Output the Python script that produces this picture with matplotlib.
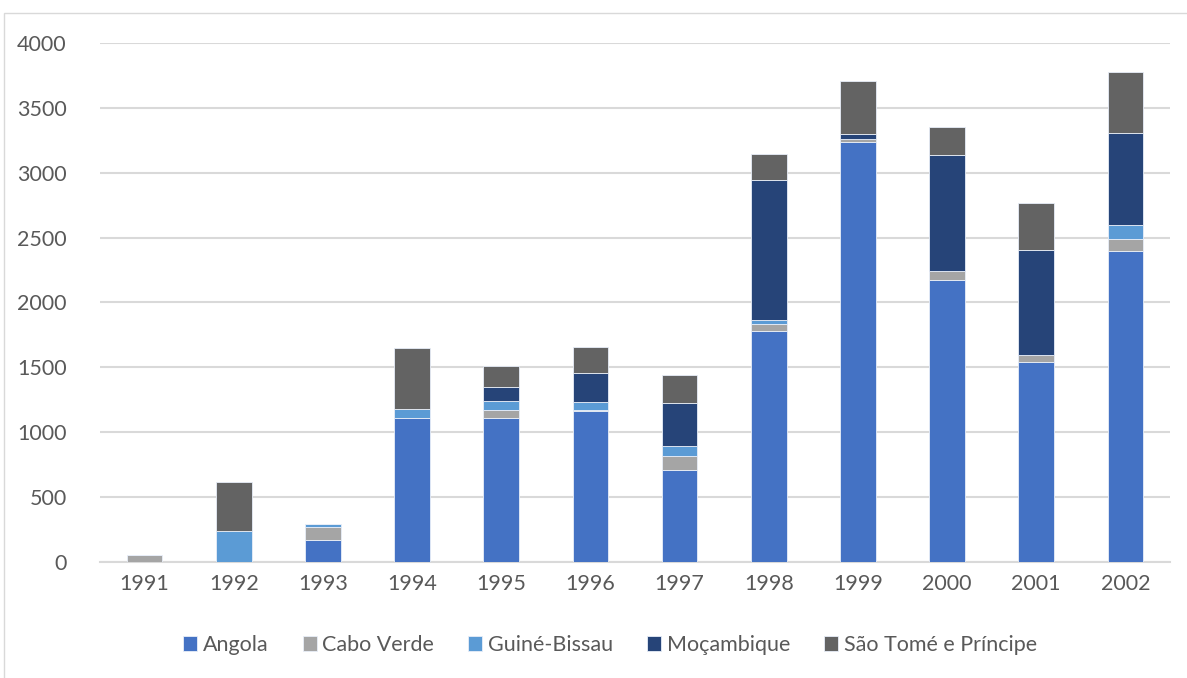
import numpy as np
import matplotlib
matplotlib.use("Agg")
import matplotlib.pyplot as plt
from matplotlib.patches import Rectangle

plt.rcParams['font.family'] = ['Lato', 'DejaVu Sans']

# dados
anos = ['1991', '1992', '1993', '1994', '1995', '1996', '1997', '1998', '1999', '2000', '2001', '2002']
angola = [0, 0, 166, 1105, 1105, 1160, 706, 1778, 3238, 2171, 1540, 2394]
cabo_verde = [55, 0, 102, 0, 65, 8, 109, 57, 21, 72, 56, 95]
guine_bissau = [0, 235, 21, 75, 72, 66, 77, 31, 0, 0, 0, 108]
mocambique = [0, 0, 0, 0, 108, 219, 329, 1077, 38, 890, 806, 706]
sao_tome = [0, 381, 0, 469, 160, 206, 219, 200, 408, 223, 367, 472]

series = [
    ('Angola', angola, '#4472C4'),
    ('Cabo Verde', cabo_verde, '#A5A5A5'),
    ('Guiné-Bissau', guine_bissau, '#5B9BD5'),
    ('Moçambique', mocambique, '#264478'),
    ('São Tomé e Príncipe', sao_tome, '#636363'),
]

fig = plt.figure(figsize=(11.87, 6.78), dpi=100)
ax = fig.add_axes([100 / 1187, 1 - 561.7 / 678, 1070 / 1187, (561.7 - 43) / 678])

x = np.arange(len(anos))
base = np.zeros(len(anos))
for nome, vals, cor in series:
    vals = np.array(vals, dtype=float)
    ax.bar(x, vals, width=0.4, bottom=base, color=cor, label=nome,
           edgecolor='#e8eef8', linewidth=0.6, zorder=3)
    base += vals

ax.set_xlim(-0.5, len(anos) - 0.5)
ax.set_ylim(0, 4000)
ax.set_yticks(range(0, 4001, 500))
ax.set_xticks(x)
ax.set_xticklabels(anos)
ax.grid(axis='y', color='#d9d9d9', linewidth=1.5, zorder=0)
for s in ['top', 'right', 'left']:
    ax.spines[s].set_visible(False)
ax.spines['bottom'].set_color('#d9d9d9')
ax.spines['bottom'].set_linewidth(1.5)
ax.tick_params(axis='both', length=0, labelsize=15.5, labelcolor='#595959')
ax.tick_params(axis='y', pad=24)
ax.tick_params(axis='x', pad=9)

fig.legend(loc='center', bbox_to_anchor=(610 / 1187, 1 - 645 / 678), ncol=5, frameon=False,
           fontsize=15.5, labelcolor='#595959', handlelength=0.65, handleheight=0.65,
           handletextpad=0.25, columnspacing=1.6)

fig.patches.append(Rectangle((4 / 1187, -0.01), 1.1, 1 - 13 / 678 + 0.01,
                             transform=fig.transFigure, fill=False,
                             edgecolor='#d9d9d9', linewidth=1))

fig.savefig('out.png', dpi=100)
